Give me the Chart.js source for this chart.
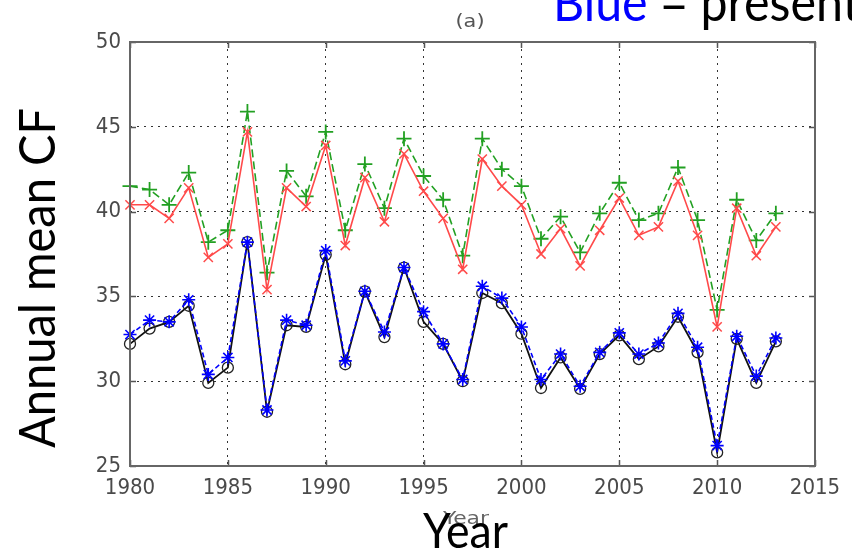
<!DOCTYPE html>
<html>
<head>
<meta charset="utf-8">
<script src="https://cdn.jsdelivr.net/npm/chart.js@4.4.1/dist/chart.umd.min.js"></script>
<style>
  html, body { margin: 0; padding: 0; background: #fff; overflow: hidden; }
  #wrap { position: relative; width: 852px; height: 554px; overflow: hidden; }
  #c { position: absolute; left: 0; top: 0; }
  #ov { position: absolute; left: 0; top: 0; pointer-events: none; }
</style>
</head>
<body>
<div id="wrap">
  <canvas id="c" width="852" height="554"></canvas>
  <svg id="ov" width="852" height="554" xmlns="http://www.w3.org/2000/svg">
    <text x="470" y="27" text-anchor="middle" font-family="DejaVu Sans Condensed, Liberation Sans, sans-serif" font-size="18" fill="#555" textLength="29" lengthAdjust="spacingAndGlyphs">(a)</text>
    <text x="553" y="21" font-family="Lato, sans-serif" font-size="52" textLength="307" lengthAdjust="spacingAndGlyphs"><tspan fill="#0000ff">Blue</tspan><tspan fill="#000"> = present</tspan></text>
    <text transform="translate(55,278) rotate(-90)" text-anchor="middle" font-family="Lato, sans-serif" font-size="50" fill="#000" textLength="340" lengthAdjust="spacingAndGlyphs">Annual mean CF</text>
    <text x="466" y="524" text-anchor="middle" font-family="DejaVu Sans Condensed, Liberation Sans, sans-serif" font-size="18" fill="#666" textLength="46" lengthAdjust="spacingAndGlyphs">Year</text>
    <text x="465.5" y="548" text-anchor="middle" font-family="Lato, sans-serif" font-size="48" fill="#000" textLength="85" lengthAdjust="spacingAndGlyphs">Year</text>
  </svg>
</div>
<script>
const years = [1980,1981,1982,1983,1984,1985,1986,1987,1988,1989,1990,1991,1992,1993,1994,1995,1996,1997,1998,1999,2000,2001,2002,2003,2004,2005,2006,2007,2008,2009,2010,2011,2012,2013];
const greenSeries = [41.5,41.3,40.4,42.3,38.2,38.9,45.9,36.4,42.4,40.9,44.7,38.9,42.8,40.2,44.3,42.1,40.7,37.4,44.3,42.5,41.5,38.4,39.7,37.6,39.9,41.7,39.5,39.9,42.6,39.5,34.2,40.7,38.3,39.9];
const redSeries = [40.4,40.4,39.6,41.4,37.3,38.1,44.7,35.4,41.4,40.3,43.9,38.0,42.0,39.4,43.4,41.2,39.6,36.6,43.1,41.5,40.4,37.5,39.0,36.8,38.9,40.8,38.6,39.1,41.8,38.6,33.2,40.2,37.4,39.1];
const blueSeries = [32.75,33.6,33.5,34.8,30.4,31.4,38.2,28.3,33.6,33.3,37.7,31.2,35.3,32.9,36.7,34.1,32.2,30.1,35.6,34.9,33.2,30.1,31.6,29.7,31.7,32.85,31.6,32.25,34.0,32.0,26.2,32.65,30.3,32.55];
const blackSeries = [32.2,33.1,33.5,34.45,29.9,30.8,38.2,28.2,33.3,33.2,37.45,31.0,35.3,32.6,36.7,33.5,32.2,30.0,35.2,34.6,32.8,29.6,31.4,29.55,31.6,32.7,31.3,32.05,33.8,31.7,25.8,32.5,29.9,32.35];
const xTicks = [1980,1985,1990,1995,2000,2005,2010,2015];
const yTicks = [25,30,35,40,45,50];

const pts = arr => years.map((y, i) => ({x: y, y: arr[i]}));
const tickFont = { family: "'DejaVu Sans Condensed', 'Liberation Sans', sans-serif", size: 22 };

const boxPlugin = {
  id: 'box',
  afterDraw(chart) {
    const {ctx, chartArea: a, scales} = chart;
    ctx.save();
    ctx.strokeStyle = '#555';
    ctx.lineWidth = 1.5;
    ctx.setLineDash([]);
    const tl = 6;
    xTicks.forEach(v => {
      const px = Math.round(scales.x.getPixelForValue(v)) + 0.5;
      ctx.beginPath();
      ctx.moveTo(px, a.bottom); ctx.lineTo(px, a.bottom - tl);
      ctx.moveTo(px, a.top); ctx.lineTo(px, a.top + tl);
      ctx.stroke();
    });
    yTicks.forEach(v => {
      const py = Math.round(scales.y.getPixelForValue(v)) + 0.5;
      ctx.beginPath();
      ctx.moveTo(a.left, py); ctx.lineTo(a.left + tl, py);
      ctx.moveTo(a.right, py); ctx.lineTo(a.right - tl, py);
      ctx.stroke();
    });
    ctx.lineWidth = 2;
    ctx.strokeStyle = '#666';
    ctx.strokeRect(a.left, a.top, a.right - a.left, a.bottom - a.top);
    ctx.restore();
  }
};

new Chart(document.getElementById('c'), {
  type: 'line',
  data: {
    datasets: [
      { label: 'green', data: pts(greenSeries), borderColor: '#22a022', backgroundColor: '#22a022',
        borderWidth: 1.6, borderDash: [8, 4], pointStyle: 'cross', pointRadius: 7.5, pointBorderWidth: 1.8,
        pointBorderColor: '#22a022', tension: 0, order: 2 },
      { label: 'red', data: pts(redSeries), borderColor: '#ff4a4a', backgroundColor: '#ff4a4a',
        borderWidth: 1.6, pointStyle: 'crossRot', pointRadius: 6.5, pointBorderWidth: 1.5,
        pointBorderColor: '#ff4a4a', tension: 0, order: 1 },
      { label: 'black', data: pts(blackSeries), borderColor: '#111', backgroundColor: 'rgba(0,0,0,0)',
        borderWidth: 1.8, pointStyle: 'circle', pointRadius: 5.5, pointBorderWidth: 1.3,
        pointBorderColor: '#222', tension: 0, order: 4 },
      { label: 'blue', data: pts(blueSeries), borderColor: '#0000ff', backgroundColor: '#0000ff',
        borderWidth: 1.6, borderDash: [5, 3], pointStyle: 'star', pointRadius: 6.5, pointBorderWidth: 1.6,
        pointBorderColor: '#0000ff', tension: 0, order: 3 }
    ]
  },
  options: {
    responsive: false,
    animation: false,
    clip: false,
    layout: { padding: { top: 42, right: 37, left: 0, bottom: 0 } },
    plugins: { legend: { display: false }, tooltip: { enabled: false }, title: { display: false } },
    scales: {
      x: {
        type: 'linear', min: 1980, max: 2015,
        afterBuildTicks: s => { s.ticks = xTicks.map(v => ({value: v})); },
        afterFit: s => { s.height = 88; },
        grid: { color: '#333', lineWidth: 1, drawTicks: false, tickLength: 0 },
        border: { display: false, dash: [2, 5] },
        ticks: { padding: 9, color: '#4a4a4a', font: tickFont, maxRotation: 0,
                 callback: v => String(v) }
      },
      y: {
        min: 25, max: 50,
        afterBuildTicks: s => { s.ticks = yTicks.map(v => ({value: v})); },
        afterFit: s => { s.width = 130; },
        grid: { color: '#333', lineWidth: 1, drawTicks: false, tickLength: 0 },
        border: { display: false, dash: [2, 5] },
        ticks: { padding: 9, color: '#4a4a4a', font: tickFont }
      }
    }
  },
  plugins: [boxPlugin]
});
</script>
</body>
</html>
